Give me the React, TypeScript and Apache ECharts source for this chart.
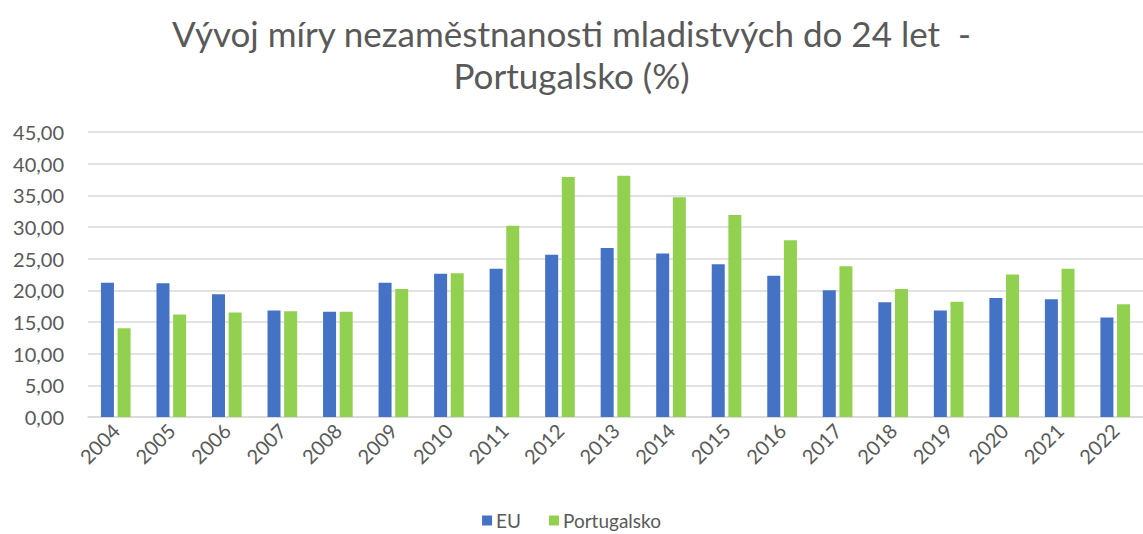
import React, { useEffect, useRef } from "react";
import * as echarts from "echarts";

const years = ["2004","2005","2006","2007","2008","2009","2010","2011","2012","2013","2014","2015","2016","2017","2018","2019","2020","2021","2022"];
const euValues = [21.2, 21.1, 19.4, 16.8, 16.6, 21.2, 22.6, 23.4, 25.6, 26.7, 25.8, 24.1, 22.3, 20.0, 18.1, 16.8, 18.8, 18.6, 15.7];
const ptValues = [14.0, 16.2, 16.5, 16.7, 16.6, 20.2, 22.7, 30.2, 37.9, 38.1, 34.7, 31.9, 27.9, 23.8, 20.2, 18.2, 22.5, 23.4, 17.8];
const seriesNames = ["EU", "Portugalsko"];
const titleText = "Vývoj míry nezaměstnanosti mladistvých do 24 let  -\nPortugalsko (%)";

const FONT = "Lato, 'Open Sans', sans-serif";
const TEXT = "#595959";

export default function App() {
  const ref = useRef<HTMLDivElement>(null);
  useEffect(() => {
    if (!ref.current) return;
    const chart = echarts.init(ref.current, null, { renderer: "svg" });
    chart.setOption({
      animation: false,
      backgroundColor: "#ffffff",
      title: {
        text: titleText,
        left: "center",
        top: 7,
        textStyle: { fontFamily: FONT, fontSize: 35, fontWeight: "normal", color: TEXT, lineHeight: 42 },
      },
      legend: {
        bottom: -1,
        left: "center",
        itemWidth: 10,
        itemHeight: 10,
        itemGap: 28,
        icon: "rect",
        textStyle: { fontFamily: FONT, fontSize: 19, color: TEXT, padding: [0, 0, 0, -1] },
        data: seriesNames,
      },
      grid: { left: 88, top: 132, width: 1066, height: 285 },
      xAxis: {
        type: "category",
        data: years,
        axisTick: { show: false },
        axisLine: { lineStyle: { color: "#D9D9D9", width: 1.5 } },
        axisLabel: { rotate: 45, fontFamily: FONT, fontSize: 20, color: TEXT, margin: 10, interval: 0 },
      },
      yAxis: {
        type: "value",
        min: 0,
        max: 45,
        interval: 5,
        axisLine: { show: false },
        axisTick: { show: false },
        splitLine: { lineStyle: { color: "#D9D9D9", width: 1.5 } },
        axisLabel: {
          fontFamily: FONT,
          fontSize: 20,
          color: TEXT,
          margin: 24,
          formatter: (v: number) => v.toFixed(2).replace(".", ","),
        },
      },
      series: [
        { name: seriesNames[0], type: "bar", data: euValues, barWidth: 13, barGap: "28%", itemStyle: { color: "#4472C4" } },
        { name: seriesNames[1], type: "bar", data: ptValues, barWidth: 13, barGap: "28%", itemStyle: { color: "#92D050" } },
      ],
    });
    return () => chart.dispose();
  }, []);
  return <div ref={ref} style={{ position: "fixed", left: 0, top: 0, width: 1143, height: 534 }} />;
}
